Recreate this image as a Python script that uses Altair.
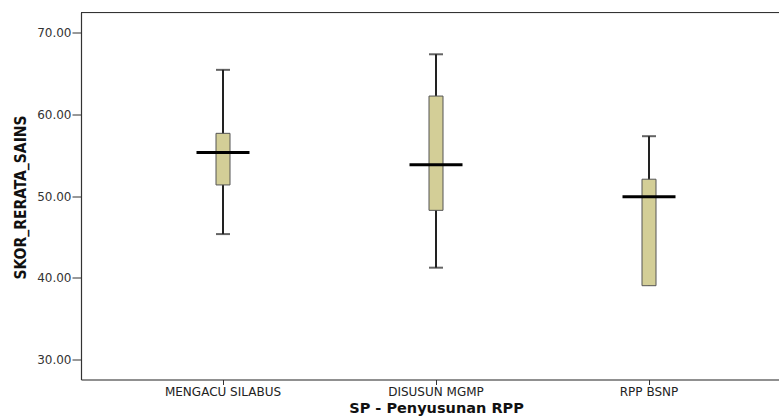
import altair as alt
import pandas as pd

categories = ["MENGACU SILABUS", "DISUSUN MGMP", "RPP BSNP"]
whisker_low = [45.35, 41.25, 39.05]
q1 = [51.35, 48.25, 39.05]
median = [55.3, 53.8, 49.9]
q3 = [57.65, 62.2, 52.05]
whisker_high = [65.4, 67.3, 57.3]
y_ticks = [30, 40, 50, 60, 70]

df = pd.DataFrame({
    "cat": categories,
    "lo": whisker_low,
    "q1": q1,
    "med": median,
    "q3": q3,
    "hi": whisker_high,
})

W, H = 698, 367

xscale = alt.Scale(domain=categories, paddingInner=0, paddingOuter=0.1385, align=0.6017)
yscale = alt.Scale(domain=[27.6, 72.4], nice=False, zero=False)

x_enc = alt.X(
    "cat:N", sort=categories, scale=xscale,
    axis=alt.Axis(
        title="SP - Penyusunan RPP", labelAngle=0, labelFont="DejaVu Sans",
        labelFontSize=12, labelColor="#222", labelPadding=2, tickSize=5,
        tickColor="#333", domainColor="#333", domainWidth=1.2,
        titleFont="DejaVu Sans", titleFontSize=14.5, titleFontWeight="bold",
        titleColor="#111", titleX=355, titleY=33, titleBaseline="alphabetic",
        titleAlign="center",
    ),
)
y_axis = alt.Axis(
    title="SKOR_RERATA_SAINS", values=y_ticks, format=".2f",
    labelFont="DejaVu Sans", labelFontSize=12, labelColor="#333",
    labelPadding=1, tickSize=9, tickColor="#333", domainColor="#333",
    domainWidth=1.2, grid=False,
    titleFont="Liberation Sans Narrow, DejaVu Sans Condensed, Liberation Sans, Arial, sans-serif",
    titleFontSize=15.5, titleFontWeight="bold",
    titleColor="#111", titleAngle=270, titleX=-56, titleY=H / 2 + 1,
    titleBaseline="alphabetic", titleAlign="center",
)

base = alt.Chart(df)

whisker = base.mark_rule(color="#222", strokeWidth=2).encode(
    x=x_enc, y=alt.Y("lo:Q", scale=yscale, axis=y_axis), y2="hi:Q"
)
box = base.mark_bar(size=14, fill="#D3CE97", stroke="#555", strokeWidth=1).encode(
    x=alt.X("cat:N", sort=categories), y=alt.Y("q1:Q"), y2="q3:Q"
)
cap_hi = base.mark_tick(orient="horizontal", size=14, thickness=2, color="#222").encode(
    x=alt.X("cat:N", sort=categories), y=alt.Y("hi:Q")
)
cap_lo = base.transform_filter("datum.lo < datum.q1").mark_tick(
    orient="horizontal", size=14, thickness=2, color="#222"
).encode(x=alt.X("cat:N", sort=categories), y=alt.Y("lo:Q"))
med = base.mark_tick(orient="horizontal", size=53, thickness=3, color="#000", opacity=1).encode(
    x=alt.X("cat:N", sort=categories), y=alt.Y("med:Q")
)
top_line = alt.Chart(df).mark_rule(color="#333", strokeWidth=1.2).encode(
    x=alt.value(0), x2=alt.value(W), y=alt.value(0)
)

chart = alt.layer(whisker, box, cap_hi, cap_lo, med, top_line).properties(
    width=W, height=H,
    autosize=alt.AutoSizeParams(type="none"),
    padding={"left": 81, "top": 12.5, "right": 0, "bottom": 37.5},
).configure_view(stroke=None).configure(background="white")

chart.save("out.html", embed_options={"renderer": "svg", "actions": False})
